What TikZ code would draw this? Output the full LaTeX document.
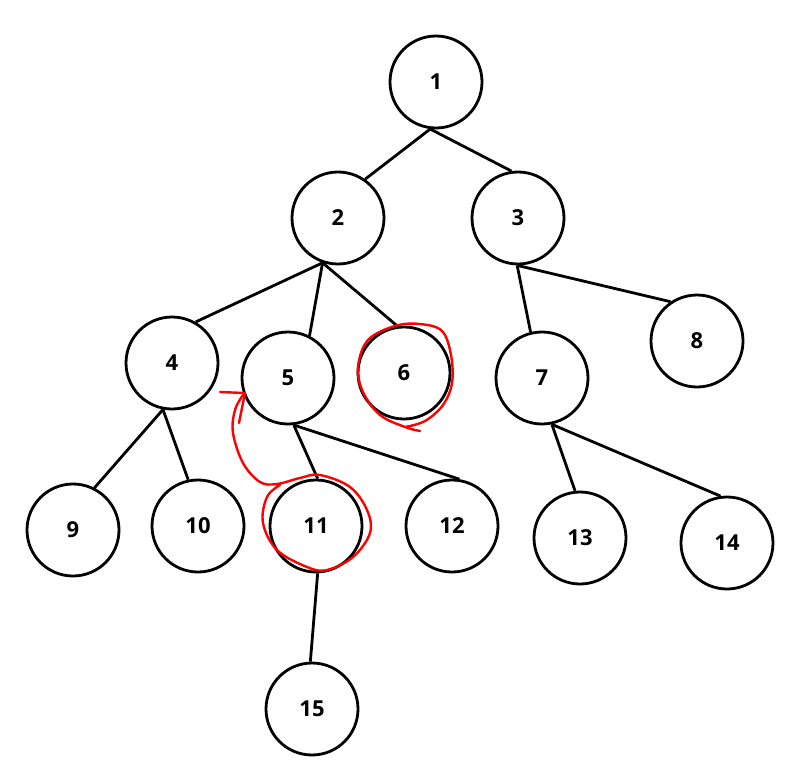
\documentclass[tikz,border=0pt]{standalone}
\usepackage{fontspec}
\setmainfont{Open Sans}
\begin{document}
\begin{tikzpicture}[x=1pt,y=-1pt,
  vert/.style={circle,draw=black,line width=2.8pt,minimum size=92pt,inner sep=0pt,
    font=\fontsize{22}{24}\selectfont\bfseries},
  edge/.style={line width=2.8pt,black},
  redpen/.style={draw=red,line width=2.4pt,line cap=round,line join=round}]
\useasboundingbox (0,0) rectangle (803,781);
\node[vert] (n1) at (436,82) {1};
\node[vert] (n2) at (338,218) {2};
\node[vert] (n3) at (518,218) {3};
\node[vert] (n4) at (172,363) {4};
\node[vert] (n5) at (288,378) {5};
\node[vert] (n6) at (404,373) {6};
\node[vert] (n7) at (542,378) {7};
\node[vert] (n8) at (697,341) {8};
\node[vert] (n9) at (73,530) {9};
\node[vert] (n10) at (198,526) {10};
\node[vert] (n11) at (316,526) {11};
\node[vert] (n12) at (452,526) {12};
\node[vert] (n13) at (580,538) {13};
\node[vert] (n14) at (727,543) {14};
\node[vert] (n15) at (312,709) {15};
\draw[edge] (n1.263) -- (n2.55);
\draw[edge] (n1.263) -- (n3.98);
\draw[edge] (n2.251) -- (n4.60);
\draw[edge] (n2.251) -- (n5.63);
\draw[edge] (n2.251) -- (n6.98);
\draw[edge] (n3.269) -- (n7.104);
\draw[edge] (n3.269) -- (n8.124);
\draw[edge] (n4.259) -- (n9.63);
\draw[edge] (n4.259) -- (n10.102);
\draw[edge] (n5.277) -- (n11.88);
\draw[edge] (n5.277) -- (n12.81);
\draw[edge] (n7.282) -- (n13.96);
\draw[edge] (n7.282) -- (n14.98);
\draw[edge] (n11.272) -- (n15.92);
% red annotations
\draw[redpen] plot[smooth,tension=0.6] coordinates {(420,431) (405,427) (380,415) (363,392) (358,367) (368,340) (395,326) (420,324) (442,331) (451,355) (452,383) (443,405) (425,421) (405,427)};
\draw[redpen] plot[smooth,tension=0.6] coordinates {(243,395) (235,410) (233,433) (243,463) (260,482) (277,484) (300,478) (320,475) (350,487) (367,510) (370,533) (353,557) (327,570) (307,567) (277,550) (263,523) (267,497) (280,485)};
\draw[redpen] (220,392) -- (245,393) -- (239,423);
\end{tikzpicture}
\end{document}
